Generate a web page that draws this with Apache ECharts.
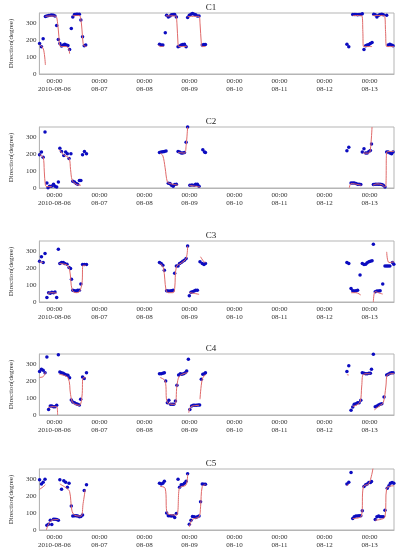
<!DOCTYPE html>
<html>
<head>
<meta charset="utf-8">
<script src="https://cdn.jsdelivr.net/npm/echarts@6/dist/echarts.min.js"></script>
<style>
  html, body { margin: 0; padding: 0; background: #fff; }
  #chart { width: 400px; height: 550px; }
</style>
</head>
<body>
<div id="chart"></div>
<script>
// hours since 2010-08-06 00:00
const hourTicks = [0, 24, 48, 72, 96, 120, 144, 168];
const tickLabels = ['00:00\n2010-08-06', '00:00\n08-07', '00:00\n08-08', '00:00\n08-09',
  '00:00\n08-10', '00:00\n08-11', '00:00\n08-12', '00:00\n08-13'];
const panelNames = ['C1', 'C2', 'C3', 'C4', 'C5'];

// observed directions (dots): [hour, degree]
const c1Dots = [[-7.9,180],[-6.9,161],[-6.0,208],[-4.8,340],[-4.0,343],[-3.1,345],[-2.2,347],[-1.4,348],[-0.5,347],[0.3,343],[1.2,286],[2.1,204],[2.9,180],[3.8,165],[4.7,171],[5.5,176],[6.4,171],[7.2,168],[8.1,145],[9.0,269],[9.8,337],[10.7,351],[11.6,353],[12.4,353],[13.3,353],[14.1,318],[15.0,220],[15.9,167],[16.7,171],
  [56.0,175],[56.9,171],[57.8,171],[59.1,243],[59.8,347],[60.7,337],[61.6,343],[62.4,349],[63.3,351],[64.1,351],[65.0,337],[65.9,161],[66.7,165],[67.6,171],[68.4,174],[69.3,176],[70.2,161],[71.0,333],[71.9,347],[72.8,353],[73.6,357],[74.5,353],[75.3,349],[76.2,343],[77.1,343],[78.8,171],[79.7,174],[80.5,174],
  [155.9,175],[156.9,161],[159.0,351],[159.8,351],[160.7,351],[161.6,349],[162.4,351],[163.3,351],[164.1,355],[165.0,145],[165.9,167],[166.7,171],[167.6,174],[168.4,180],[169.3,186],[170.2,353],[171.0,349],[171.9,337],[172.8,347],[173.6,351],[174.5,353],[175.3,349],[177.1,347],[177.9,171],[178.8,176],[179.7,171],[180.5,167]];
const c2Dots = [[-7.9,196],[-6.9,212],[-6.0,182],[-5.0,330],[-4.0,30],[-3.4,2],[-2.6,10],[-1.6,10],[-0.5,22],[0.3,10],[1.2,6],[2.1,36],[2.9,234],[3.8,216],[5.0,192],[6.0,212],[6.9,202],[7.8,174],[8.8,202],[9.8,40],[10.7,36],[11.6,26],[12.4,22],[13.3,44],[14.1,44],[15.0,196],[16.0,216],[17.1,202],
  [56.0,210],[56.9,212],[57.8,214],[58.6,216],[59.5,218],[60.7,28],[61.6,26],[62.4,16],[63.3,10],[64.1,20],[65.0,22],[65.9,216],[66.7,212],[67.6,206],[68.4,206],[69.3,210],[70.2,270],[71.0,360],[72.2,16],[73.3,18],[74.5,16],[75.3,22],[76.2,22],[77.1,10],[79.1,226],[80.0,212],[80.5,210],
  [155.9,220],[156.9,240],[158.1,30],[159.0,30],[159.8,30],[160.7,26],[161.6,22],[162.4,22],[163.3,20],[164.1,212],[165.0,232],[165.9,206],[166.7,206],[167.6,216],[168.4,222],[169.0,260],[170.0,20],[171.0,22],[171.9,22],[172.8,22],[173.6,22],[174.5,20],[175.3,16],[176.2,6],[177.1,212],[177.9,212],[178.8,206],[179.7,202],[180.5,212]];
const c3Dots = [[-7.9,241],[-6.9,267],[-6.0,233],[-5.0,286],[-4.0,27],[-3.1,55],[-2.2,51],[-1.4,57],[-0.5,55],[0.3,59],[1.2,27],[2.1,312],[2.9,227],[3.8,233],[4.7,233],[5.5,227],[6.7,223],[7.8,204],[8.6,198],[9.1,135],[9.8,70],[10.7,67],[11.6,65],[12.4,70],[13.3,70],[14.1,106],[15.0,221],[16.0,221],[17.1,221],
  [56.0,233],[56.9,227],[57.8,217],[58.6,188],[59.8,67],[60.7,65],[61.6,65],[62.4,67],[63.3,70],[64.1,170],[65.0,212],[65.9,212],[66.7,227],[67.6,233],[68.4,241],[69.3,247],[70.2,257],[71.0,331],[71.9,37],[72.8,57],[73.6,61],[74.5,65],[75.3,70],[76.2,70],[77.6,237],[78.8,227],[79.7,221],[80.5,227],
  [155.9,233],[156.9,227],[158.1,80],[159.0,67],[159.8,65],[160.7,67],[161.6,70],[162.9,159],[164.1,227],[165.0,221],[165.9,223],[166.7,231],[167.6,237],[168.4,241],[169.3,243],[170.0,341],[171.0,61],[171.9,65],[172.8,65],[173.6,67],[175.0,106],[176.2,213],[177.1,213],[177.9,213],[178.8,213],[180.2,233],[180.9,223]];
const c4Dots = [[-7.9,256],[-6.9,270],[-6.0,264],[-5.0,250],[-4.0,343],[-3.1,33],[-2.2,53],[-1.4,53],[-0.5,49],[0.3,49],[1.2,57],[2.1,355],[2.9,254],[3.8,250],[4.7,246],[5.5,240],[6.4,236],[7.2,234],[8.1,220],[9.0,89],[9.8,77],[10.7,73],[11.6,67],[12.4,63],[13.3,59],[14.0,93],[15.0,224],[15.9,215],[17.1,250],
  [56.0,244],[56.9,244],[57.8,246],[58.6,250],[59.3,200],[60.2,73],[61.0,87],[61.9,63],[62.8,63],[63.6,63],[64.5,83],[65.3,175],[66.2,236],[67.1,244],[67.9,240],[68.8,244],[69.7,250],[70.5,260],[71.4,329],[72.2,33],[73.1,53],[74.0,57],[74.8,57],[75.7,57],[76.6,59],[77.4,59],[78.3,211],[79.1,240],[80.0,244],[80.5,250],
  [155.9,256],[156.9,290],[158.1,28],[159.0,47],[159.8,63],[160.7,67],[161.6,73],[162.4,73],[163.3,87],[164.1,250],[165.0,246],[165.9,244],[166.7,244],[167.6,246],[168.4,246],[169.0,270],[170.0,359],[171.0,49],[171.9,53],[172.8,59],[173.6,63],[174.5,67],[175.7,106],[177.1,236],[177.9,240],[178.8,246],[179.7,250],[180.5,250]];
const c5Dots = [[-7.9,296],[-6.9,272],[-6.0,282],[-5.0,300],[-4.0,28],[-3.1,34],[-2.2,58],[-1.4,32],[-0.5,64],[0.3,64],[1.2,62],[2.1,58],[2.9,296],[3.8,241],[5.0,290],[6.0,282],[6.9,252],[7.8,276],[9.0,141],[9.8,82],[10.7,84],[11.6,84],[12.4,82],[13.3,78],[14.1,80],[15.0,88],[15.9,233],[17.1,267],
  [56.0,276],[56.9,272],[57.8,276],[58.6,287],[59.8,101],[60.7,84],[61.6,84],[62.4,82],[63.3,84],[64.1,74],[65.0,98],[65.9,300],[66.7,253],[67.6,267],[68.4,267],[69.3,276],[70.2,287],[71.0,332],[71.9,34],[72.8,58],[73.6,80],[74.5,78],[75.3,74],[76.2,78],[77.1,82],[77.9,167],[78.8,272],[79.7,270],[80.5,270],
  [155.9,272],[156.9,282],[158.1,340],[159.0,68],[159.8,78],[160.7,82],[161.6,82],[162.4,84],[163.3,84],[164.1,113],[165.0,257],[165.9,267],[166.7,272],[167.6,280],[168.4,280],[169.0,286],[171.0,62],[171.9,78],[172.8,82],[173.6,78],[174.5,78],[175.3,78],[176.2,117],[177.4,247],[178.3,261],[179.1,276],[180.0,280],[180.9,276]];

// fitted curves (red), one array per unbroken piece
const c1Line = [
  [[-7.9,170],[-6.9,165],[-5.7,141],[-4.8,53]],
  [[-4.8,340],[-3,342],[-1,342],[0.8,340],[1.7,300],[2.4,220],[3.0,165],[4.5,162],[6.4,162],[7.6,150],[8.1,120]],
  [[9.8,343],[11.6,345],[13.3,345],[14.0,330],[14.7,260],[15.3,180],[16.0,165],[17.1,163]],
  [[55.5,170],[56.5,162],[58.1,163]],
  [[59.5,343],[62,343],[64.5,343],[65.3,300],[65.9,175],[66.4,162],[70.5,162]],
  [[71.0,338],[73,340],[77,340],[77.6,300],[78.3,180],[78.8,162],[80.5,162]],
  [[159.0,345],[162,345],[163.9,343],[164.4,250],[164.7,162],[169.3,162]],
  [[169.7,345],[173,345],[175.9,343],[176.5,250],[177.1,162],[181,162]]
];
const c2Line = [
  [[-7.9,196],[-6.0,182],[-5.4,100],[-4.8,16],[-4.0,8],[-1.4,8]],
  [[2.6,226],[5.0,196],[7.8,175],[8.6,110],[9.5,46],[11.6,22],[14.1,16]],
  [[56.4,206],[57.8,190],[59.0,120],[60.2,36],[61.6,26],[63.3,22],[65.9,16]],
  [[65.9,210],[69.3,206],[70.2,250],[71.0,360]],
  [[71.9,14],[74.0,12],[77.6,6]],
  [[157.2,2],[158.1,26],[160.0,24],[163.6,16]],
  [[164.7,206],[167.6,206],[168.4,226],[169.3,360]],
  [[169.8,16],[171.9,24],[174.5,20],[176.2,6],[176.7,16],[177.1,212],[181,216]]
];
const c3Line = [
  [[-7.9,237],[-6.0,233]],
  [[-3.6,51],[-1.4,55],[1.2,51]],
  [[2.6,227],[6.7,218],[8.1,190],[9.5,70],[11.6,55],[13.3,61],[14.7,110],[15.3,216],[16.7,216]],
  [[56.4,227],[58.1,200],[59.5,70],[60.7,55],[63.3,55],[64.1,80],[65.0,208],[67.6,230],[70.2,257],[71.0,331]],
  [[71.9,55],[74.5,51],[77.1,45]],
  [[77.9,267],[79.7,237],[80.5,233]],
  [[158.1,55],[160.7,55],[163.3,41]],
  [[170.0,0],[171.0,61],[173.6,51],[175.0,47]],
  [[177.1,296],[178.3,233],[181,237]]
];
const c4Line = [
  [[-7.9,222],[-6.0,226],[-4.8,252]],
  [[-3.4,43],[-1.4,49],[1.2,49],[1.7,0]],
  [[2.6,240],[7.2,220],[8.6,122],[9.8,73],[13.3,57],[14.7,112],[15.3,220],[16.7,220]],
  [[56.4,221],[59.0,201],[60.2,73],[64.1,63],[65.3,171],[66.7,230],[71.0,250]],
  [[71.6,14],[72.8,49],[77.1,57]],
  [[77.6,93],[78.8,211],[80.5,240]],
  [[155.9,238],[156.9,236]],
  [[159.0,49],[162.9,77],[163.8,171],[164.7,240],[168.4,244]],
  [[170.5,30],[173.6,57],[175.3,73],[176.7,171],[177.4,236],[181,244]]
];
const c5Line = [
  [[-7.9,240],[-6.0,255],[-4.8,267]],
  [[-4.3,0],[-3.4,28],[-1.4,58],[2.1,62]],
  [[2.9,272],[6.4,247],[8.1,227],[9.3,117],[10.7,88],[14.1,82],[15.3,157],[16.4,237]],
  [[56.4,257],[59.0,247],[60.2,98],[65.0,88],[66.4,237],[67.1,253],[70.2,267],[71.0,330]],
  [[71.9,18],[73.6,62],[77.1,78],[77.9,137],[78.8,257],[80.5,267]],
  [[155.9,262],[156.9,270]],
  [[159.0,68],[163.6,82],[164.7,257],[167.6,273],[169.8,364]],
  [[171.0,58],[176.2,78],[177.1,247],[181,261]]
];

const dotsByPanel = [c1Dots, c2Dots, c3Dots, c4Dots, c5Dots];
const linesByPanel = [c1Line, c2Line, c3Line, c4Line, c5Line];

const gridTops = [13, 127, 241, 354, 469];
const font = 'Liberation Serif';

const grids = [], xAxes = [], yAxes = [], titles = [], series = [];
panelNames.forEach((name, i) => {
  grids.push({
    left: 29, right: 6, top: gridTops[i], height: 61,
    show: true, borderColor: '#b5b5b5', borderWidth: 1
  });
  titles.push({
    text: name, left: 211, top: gridTops[i] - 10, textAlign: 'center', padding: 0,
    textStyle: { fontFamily: font, fontSize: 9, fontWeight: 'normal', color: '#222' }
  });
  xAxes.push({
    type: 'value', gridIndex: i, min: -8, max: 181,
    axisLine: { onZero: false, lineStyle: { color: '#b5b5b5' } },
    axisTick: { show: false },
    splitLine: { show: false },
    axisLabel: {
      customValues: hourTicks,
      formatter: v => tickLabels[hourTicks.indexOf(v)] || '',
      fontFamily: font, fontSize: 7, lineHeight: 8, color: '#333', margin: 3
    }
  });
  yAxes.push({
    type: 'value', gridIndex: i, min: 0, max: 360, interval: 100,
    name: 'Direction(degree)', nameLocation: 'middle', nameGap: 16,
    nameTextStyle: { fontFamily: font, fontSize: 7, color: '#333' },
    axisLine: { show: true, onZero: false, lineStyle: { color: '#b5b5b5' } },
    axisTick: { show: false },
    splitLine: { show: false },
    axisLabel: { fontFamily: font, fontSize: 7, color: '#333', margin: 3, showMaxLabel: false }
  });
  linesByPanel[i].forEach(seg => {
    series.push({
      type: 'line', xAxisIndex: i, yAxisIndex: i, data: seg,
      smooth: 0.35, showSymbol: false, silent: true, clip: true,
      lineStyle: { color: '#e06a6a', width: 1 }
    });
  });
  series.push({
    type: 'scatter', xAxisIndex: i, yAxisIndex: i, data: dotsByPanel[i],
    symbolSize: 3.5, clip: true,
    itemStyle: { color: '#0c0cc0', opacity: 1 }
  });
});

const chart = echarts.init(document.getElementById('chart'));
chart.setOption({
  animation: false,
  backgroundColor: '#fff',
  title: titles,
  grid: grids,
  xAxis: xAxes,
  yAxis: yAxes,
  series: series
});
</script>
</body>
</html>
